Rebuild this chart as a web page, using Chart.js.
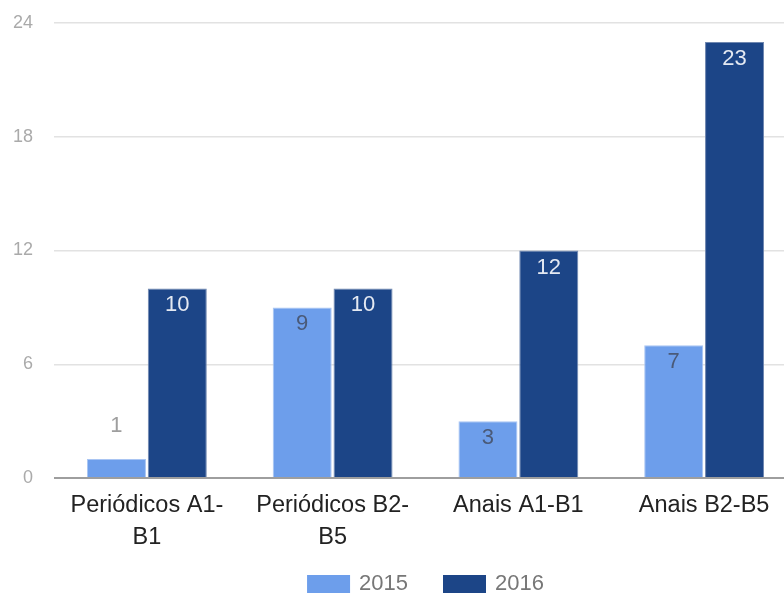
<!DOCTYPE html>
<html>
<head>
<meta charset="utf-8">
<script src="https://cdn.jsdelivr.net/npm/chart.js@4/dist/chart.umd.min.js"></script>
<style>
  html, body { margin: 0; padding: 0; background: #fff; overflow: hidden; }
  #wrap { width: 797px; height: 596px; }
</style>
</head>
<body>
<div id="wrap"><canvas id="barChart"></canvas></div>
<script>
var categories = [['Periódicos A1-', 'B1'], ['Periódicos B2-', 'B5'], 'Anais A1-B1', 'Anais B2-B5'];
var seriesNames = ['2015', '2016'];
var values2015 = [1, 9, 3, 7];
var values2016 = [10, 10, 12, 23];
var yTicks = [0, 6, 12, 18, 24];

var fontFam = '"Liberation Sans", Arial, sans-serif';

// draws the value labels at the top of each bar
var barValues = {
  id: 'barValues',
  afterDatasetsDraw: function (chart) {
    var ctx = chart.ctx;
    ctx.save();
    ctx.font = '22px ' + fontFam;
    ctx.textAlign = 'center';
    ctx.textBaseline = 'middle';
    chart.data.datasets.forEach(function (ds, di) {
      var meta = chart.getDatasetMeta(di);
      meta.data.forEach(function (bar, i) {
        var h = bar.base - bar.y;
        var y, color;
        if (h < 30) {
          y = bar.y - 33;
          color = '#9e9e9e';
        } else {
          y = bar.y + 17;
          color = di === 0 ? '#4a5a78' : '#e4e9f2';
        }
        ctx.fillStyle = color;
        ctx.fillText(ds.data[i], bar.x, y);
      });
    });
    ctx.restore();
  }
};

// legend under the axis, centred on the plot area
var bottomLegend = {
  id: 'bottomLegend',
  afterDraw: function (chart) {
    var ctx = chart.ctx;
    var area = chart.chartArea;
    var boxW = 43, boxH = 18, textGap = 9, itemGap = 35;
    var y = 584;
    ctx.save();
    ctx.font = '22px ' + fontFam;
    ctx.textBaseline = 'middle';
    var items = chart.data.datasets.map(function (ds) {
      return { text: ds.label, color: ds.backgroundColor, w: boxW + textGap + ctx.measureText(ds.label).width };
    });
    var total = items.reduce(function (s, it) { return s + it.w; }, 0) + itemGap * (items.length - 1);
    var x = (area.left + area.right) / 2 - total / 2;
    items.forEach(function (it) {
      ctx.fillStyle = it.color;
      ctx.fillRect(x, y - boxH / 2, boxW, boxH);
      ctx.fillStyle = '#777';
      ctx.fillText(it.text, x + boxW + textGap, y);
      x += it.w + itemGap;
    });
    ctx.restore();
  }
};

var ctx = document.getElementById('barChart').getContext('2d');
var myChart = new Chart(ctx, {
  type: 'bar',
  data: {
    labels: categories,
    datasets: [
      {
        label: seriesNames[0],
        backgroundColor: '#6d9eeb',
        borderColor: '#a9c5f3',
        borderWidth: 1,
        data: values2015
      },
      {
        label: seriesNames[1],
        backgroundColor: '#1c4587',
        borderColor: '#6f87b0',
        borderWidth: 1,
        data: values2016
      }
    ]
  },
  options: {
    responsive: true,
    maintainAspectRatio: false,
    animation: false,
    layout: { padding: { top: 23, bottom: 0, left: 0, right: 0 } },
    datasets: {
      bar: { categoryPercentage: 0.655, barPercentage: 0.97 }
    },
    plugins: {
      legend: { display: false },
      tooltip: { enabled: false }
    },
    scales: {
      x: {
        afterFit: function (scale) { scale.height = 118; },
        grid: { display: false },
        border: { display: false },
        ticks: {
          color: '#222',
          padding: 4,
          maxRotation: 0,
          autoSkip: false,
          font: { family: fontFam, size: 23.5, lineHeight: 1.36 }
        }
      },
      y: {
        min: 0,
        max: 24,
        afterFit: function (scale) {
          scale.width = 54;
          scale.paddingTop = 0;
          scale.paddingBottom = 0;
        },
        afterBuildTicks: function (scale) {
          scale.ticks = yTicks.map(function (v) { return { value: v }; });
        },
        border: { display: false },
        grid: {
          drawTicks: false,
          lineWidth: function (c) { return c.tick.value === 0 ? 2 : 1.5; },
          color: function (c) { return c.tick.value === 0 ? '#9e9e9e' : '#e2e2e2'; }
        },
        ticks: {
          color: '#aaa',
          padding: 21,
          font: { family: fontFam, size: 18 }
        }
      }
    }
  },
  plugins: [barValues, bottomLegend]
});
</script>
</body>
</html>
